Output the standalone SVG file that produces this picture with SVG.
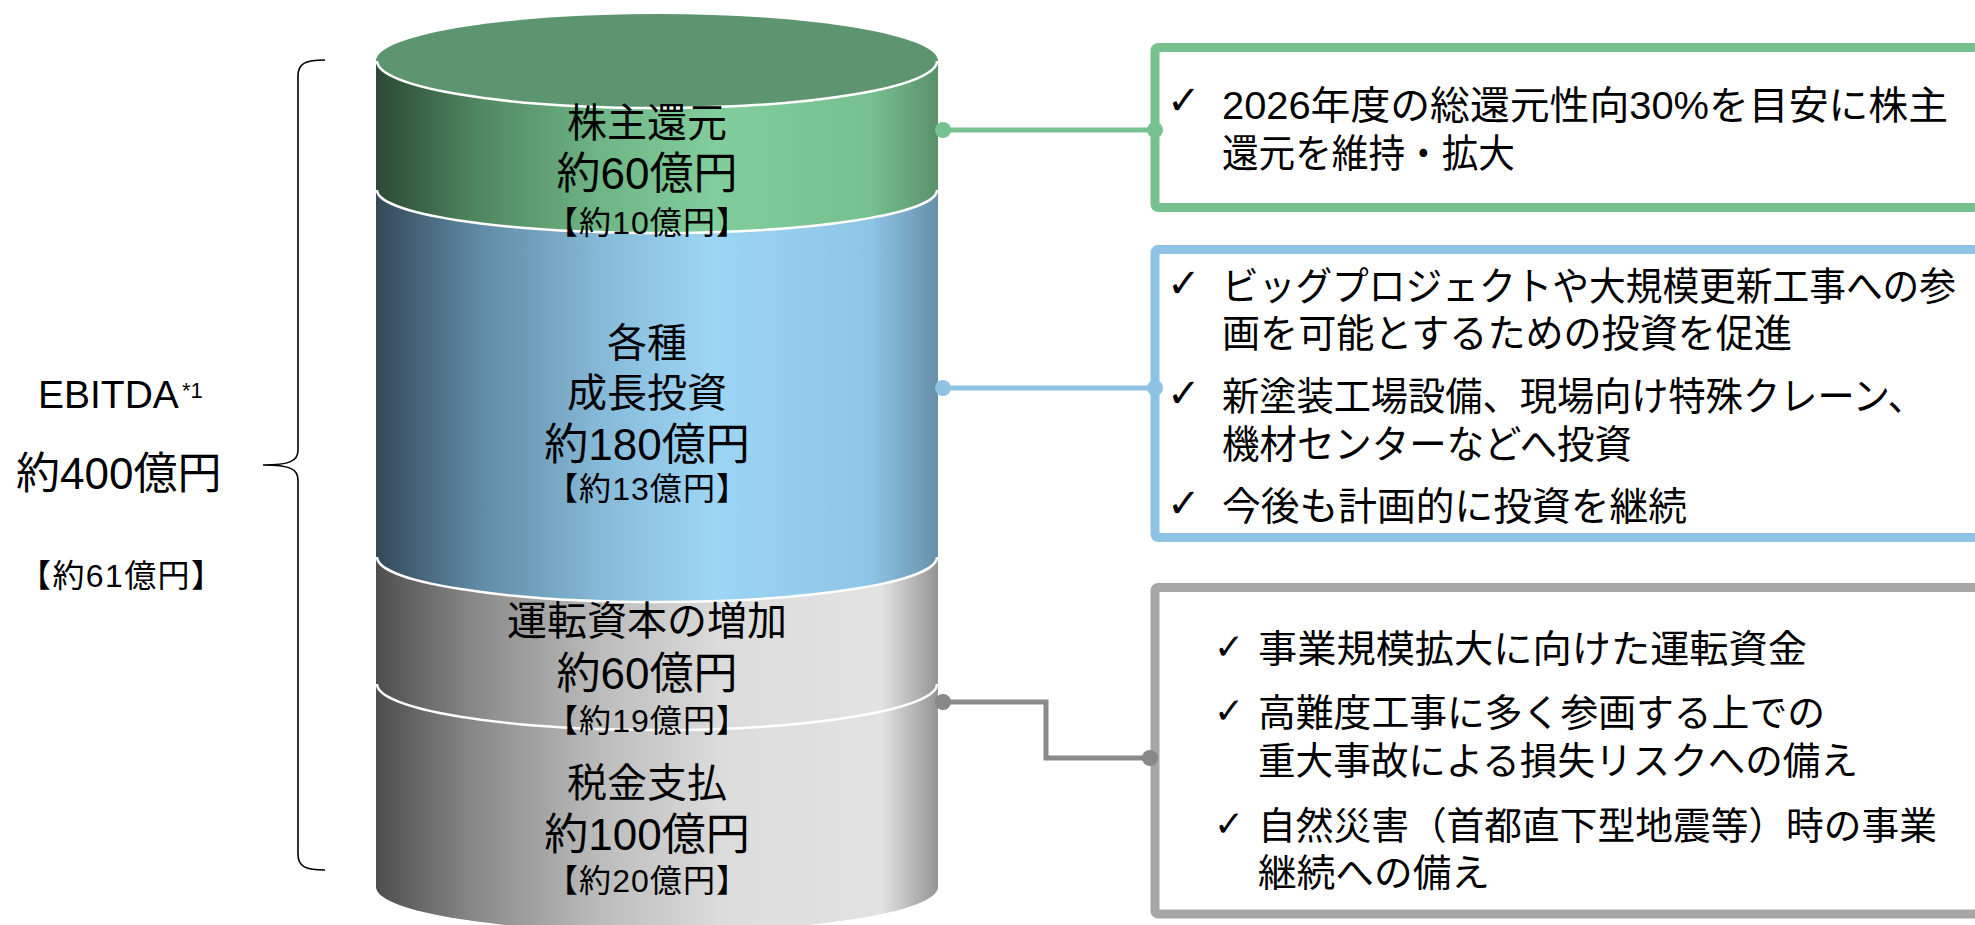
<svg xmlns="http://www.w3.org/2000/svg" width="1975" height="925" viewBox="0 0 1975 925">
<defs>
<linearGradient id="gGreen" x1="0" y1="0" x2="1" y2="0">
<stop offset="0" stop-color="#2c4935"/><stop offset="0.18" stop-color="#4f8760"/><stop offset="0.4" stop-color="#6fb585"/><stop offset="0.6" stop-color="#82cd9c"/><stop offset="0.88" stop-color="#76c08f"/><stop offset="1" stop-color="#5a916c"/>
</linearGradient>
<linearGradient id="gBlue" x1="0" y1="0" x2="1" y2="0">
<stop offset="0" stop-color="#34485a"/><stop offset="0.18" stop-color="#5f8aa3"/><stop offset="0.4" stop-color="#86b9d8"/><stop offset="0.6" stop-color="#9dd5f5"/><stop offset="0.88" stop-color="#8ec4e6"/><stop offset="1" stop-color="#6790aa"/>
</linearGradient>
<linearGradient id="gGray" x1="0" y1="0" x2="1" y2="0">
<stop offset="0" stop-color="#4e4e4e"/><stop offset="0.18" stop-color="#8a8a8a"/><stop offset="0.4" stop-color="#bcbcbc"/><stop offset="0.62" stop-color="#dcdcdc"/><stop offset="0.9" stop-color="#e2e2e2"/><stop offset="1" stop-color="#949494"/>
</linearGradient>
<style>
.t{font-family:"Liberation Sans","Noto Sans CJK JP",sans-serif;fill:#000}
.c{text-anchor:middle}
.f40{font-size:40px}
.f44{font-size:44px}
.f29{font-size:32px}
.bx{font-family:"Liberation Sans","Noto Sans CJK JP",sans-serif;font-size:39px;fill:#000}
.bx2{font-family:"Liberation Sans","Noto Sans CJK JP",sans-serif;font-size:38px;fill:#000}
.ck{font-family:"DejaVu Sans",sans-serif;font-size:40px;fill:#000}
.ck2{font-family:"DejaVu Sans",sans-serif;font-size:36px;fill:#000}
.seam{fill:none;stroke:#ffffff;stroke-width:2.5}
.box{fill:#ffffff;stroke-width:9}
</style>
</defs>

<g id="bracket">
<path d="M325,60 C306,60 298,63 298,76 L298,450 C298,461 290,465 263,465 C290,465 298,469 298,480 L298,854 C298,867 306,870 325,870" fill="none" stroke="#000" stroke-width="1.6"/>
</g>

<g id="ebitda">
<text class="t" x="38" y="408" font-size="39">EBITDA</text>
<text class="t" x="182" y="398" font-size="22">*1</text>
<text class="t f44" x="16" y="489">約400億円</text>
<text class="t f29" x="19" y="587" textLength="204" lengthAdjust="spacing">【約61億円】</text>
</g>

<g id="cylinder">
<path id="seg-tax" d="M376,684 L376,887 A281,45 0 0 0 938,887 L938,684 Z" fill="url(#gGray)"/>
<path id="seg-wc" d="M376,557 L376,684 A281,46 0 0 0 938,684 L938,557 Z" fill="url(#gGray)"/>
<path id="seg-growth" d="M376,190 L376,557 A281,45 0 0 0 938,557 L938,190 Z" fill="url(#gBlue)"/>
<path id="seg-return" d="M376,61 L376,190 A281,43 0 0 0 938,190 L938,61 Z" fill="url(#gGreen)"/>
<ellipse cx="657" cy="61" rx="281" ry="47" fill="#5d9570"/>
<path class="seam" d="M377,61 A280,47 0 0 0 937,61"/>
<path class="seam" d="M377,190 A280,43 0 0 0 937,190"/>
<path class="seam" d="M377,557 A280,45 0 0 0 937,557"/>
<path class="seam" d="M377,684 A280,46 0 0 0 937,684"/>
</g>

<g id="node-return">
<text class="t c f40" x="647" y="137">株主還元</text>
<text class="t c f44" x="647" y="189">約60億円</text>
<text class="t c f29" x="647" y="234" textLength="202" lengthAdjust="spacing">【約10億円】</text>
</g>
<g id="node-growth">
<text class="t c f40" x="647" y="357">各種</text>
<text class="t c f40" x="647" y="407">成長投資</text>
<text class="t c f44" x="647" y="460">約180億円</text>
<text class="t c f29" x="647" y="500" textLength="202" lengthAdjust="spacing">【約13億円】</text>
</g>
<g id="node-wc">
<text class="t c f40" x="647" y="635">運転資本の増加</text>
<text class="t c f44" x="647" y="689">約60億円</text>
<text class="t c f29" x="647" y="732" textLength="202" lengthAdjust="spacing">【約19億円】</text>
</g>
<g id="node-tax">
<text class="t c f40" x="647" y="797">税金支払</text>
<text class="t c f44" x="647" y="850">約100億円</text>
<text class="t c f29" x="647" y="892" textLength="202" lengthAdjust="spacing">【約20億円】</text>
</g>

<g id="box-return">
<rect class="box" x="1155" y="47.5" width="900" height="160" rx="3" stroke="#77c190"/>
<text class="ck" x="1167" y="114">✓</text>
<text class="bx" x="1222" y="119" textLength="726" lengthAdjust="spacingAndGlyphs">2026年度の総還元性向30%を目安に株主</text>
<text class="bx" x="1222" y="167" textLength="293" lengthAdjust="spacingAndGlyphs">還元を維持・拡大</text>
</g>

<g id="box-growth">
<rect class="box" x="1155" y="249.5" width="900" height="288" rx="3" stroke="#8fc3e3"/>
<text class="ck" x="1167" y="297">✓</text>
<text class="bx" x="1222" y="300" font-size="37" textLength="734" lengthAdjust="spacingAndGlyphs">ビッグプロジェクトや大規模更新工事への参</text>
<text class="bx" x="1222" y="347" textLength="570" lengthAdjust="spacingAndGlyphs">画を可能とするための投資を促進</text>
<text class="ck" x="1167" y="407">✓</text>
<text class="bx" x="1222" y="410" textLength="703" lengthAdjust="spacingAndGlyphs">新塗装工場設備、現場向け特殊クレーン、</text>
<text class="bx" x="1222" y="458" textLength="410" lengthAdjust="spacingAndGlyphs">機材センターなどへ投資</text>
<text class="ck" x="1167" y="517">✓</text>
<text class="bx" x="1222" y="520" textLength="465" lengthAdjust="spacingAndGlyphs">今後も計画的に投資を継続</text>
</g>

<g id="box-risk">
<rect class="box" x="1155" y="587.5" width="900" height="326.5" rx="3" stroke="#a6a6a6"/>
<text class="ck2" x="1214" y="659">✓</text>
<text class="bx2" x="1258" y="662" textLength="549" lengthAdjust="spacingAndGlyphs">事業規模拡大に向けた運転資金</text>
<text class="ck2" x="1214" y="723">✓</text>
<text class="bx2" x="1258" y="726" textLength="567" lengthAdjust="spacingAndGlyphs">高難度工事に多く参画する上での</text>
<text class="bx2" x="1258" y="774" textLength="600" lengthAdjust="spacingAndGlyphs">重大事故による損失リスクへの備え</text>
<text class="ck2" x="1214" y="836">✓</text>
<text class="bx2" x="1258" y="839" textLength="679" lengthAdjust="spacingAndGlyphs">自然災害（首都直下型地震等）時の事業</text>
<text class="bx2" x="1258" y="886" textLength="232" lengthAdjust="spacingAndGlyphs">継続への備え</text>
</g>

<g id="connectors">
<line x1="943" y1="130" x2="1155" y2="130" stroke="#77c190" stroke-width="5"/>
<circle cx="943" cy="130" r="8" fill="#77c190"/>
<circle cx="1155" cy="130" r="8" fill="#77c190"/>
<line x1="943" y1="388" x2="1155" y2="388" stroke="#8fc3e3" stroke-width="5"/>
<circle cx="943" cy="388" r="8" fill="#8fc3e3"/>
<circle cx="1155" cy="388" r="8" fill="#8fc3e3"/>
<polyline points="943,702 1046,702 1046,758 1150,758" fill="none" stroke="#8a8a8a" stroke-width="5"/>
<circle cx="943" cy="702" r="8" fill="#888888"/>
<circle cx="1150" cy="758" r="8" fill="#888888"/>
</g>
</svg>
